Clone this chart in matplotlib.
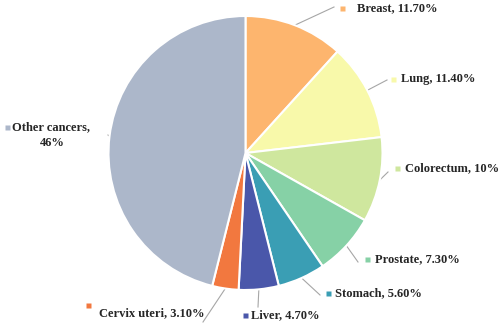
import numpy as np
import matplotlib.pyplot as plt

# data (share of new cancer cases, %)
sites = ['Breast', 'Lung', 'Colorectum', 'Prostate', 'Stomach', 'Liver',
         'Cervix uteri', 'Other cancers']
shares = [11.7, 11.4, 10, 7.3, 5.6, 4.7, 3.1, 46]
share_text = ['11.70%', '11.40%', '10%', '7.30%', '5.60%', '4.70%', '3.10%', '46%']
colors = ['#FDB56E', '#F8F9AA', '#CFE79E', '#86D1A6', '#3A9EB4', '#4A57AA',
          '#F2783F', '#ACB7CA']

W, H = 498, 326
fig = plt.figure(figsize=(W / 100, H / 100), dpi=100)
ax = fig.add_axes([0, 0, 1, 1])

cx, cy, r = 245.5, H - 153, 137
wedges, _ = ax.pie(shares, colors=colors, startangle=90, counterclock=False,
                   center=(cx, cy), radius=r, frame=True,
                   wedgeprops=dict(edgecolor='white', linewidth=1.5))
ax.set_xlim(0, W)
ax.set_ylim(0, H)
ax.set_aspect('equal')
ax.axis('off')

# label layout in pixel coords:
# (line end x, line end y, marker x, marker y, text x, text y)
layout = [
    (334, 7, 342, 8, 357, 8),
    (387, 80, 393, 79, 401, 79),
    (388, 172, 397, 168, 405, 168),
    (358, 262, 367, 259, 375, 259),
    (320, 295, 328, 293, 335, 293),
    (258, 307, 245, 315, 251, 315),
    (203, 322, 88, 305, 99, 313),
    (108, 135, 7, 127, 12, 127),
]

font = dict(family='Liberation Serif', weight='bold', size=9, color='#262626')

for w, name, txt, col, (lx, ly, mx, my, tx, ty) in zip(wedges, sites, share_text,
                                                        colors, layout):
    ang = np.deg2rad((w.theta1 + w.theta2) / 2)
    sx = cx + r * np.cos(ang)
    sy = cy + r * np.sin(ang)
    ax.plot([sx, lx], [sy, H - ly], color='#A6A6A6', lw=0.8, zorder=0)
    ax.plot(mx, H - my, marker='s', ms=3.6, color=col, mec='none')
    if name == 'Other cancers':
        ax.text(tx, H - ty, name + ',', ha='left', va='center', **font)
        ax.text(tx + 40, H - ty - 16, txt, ha='center', va='center', **font)
    else:
        ax.text(tx, H - ty, f'{name}, {txt}', ha='left', va='center', **font)

fig.savefig('out.png', dpi=100)
